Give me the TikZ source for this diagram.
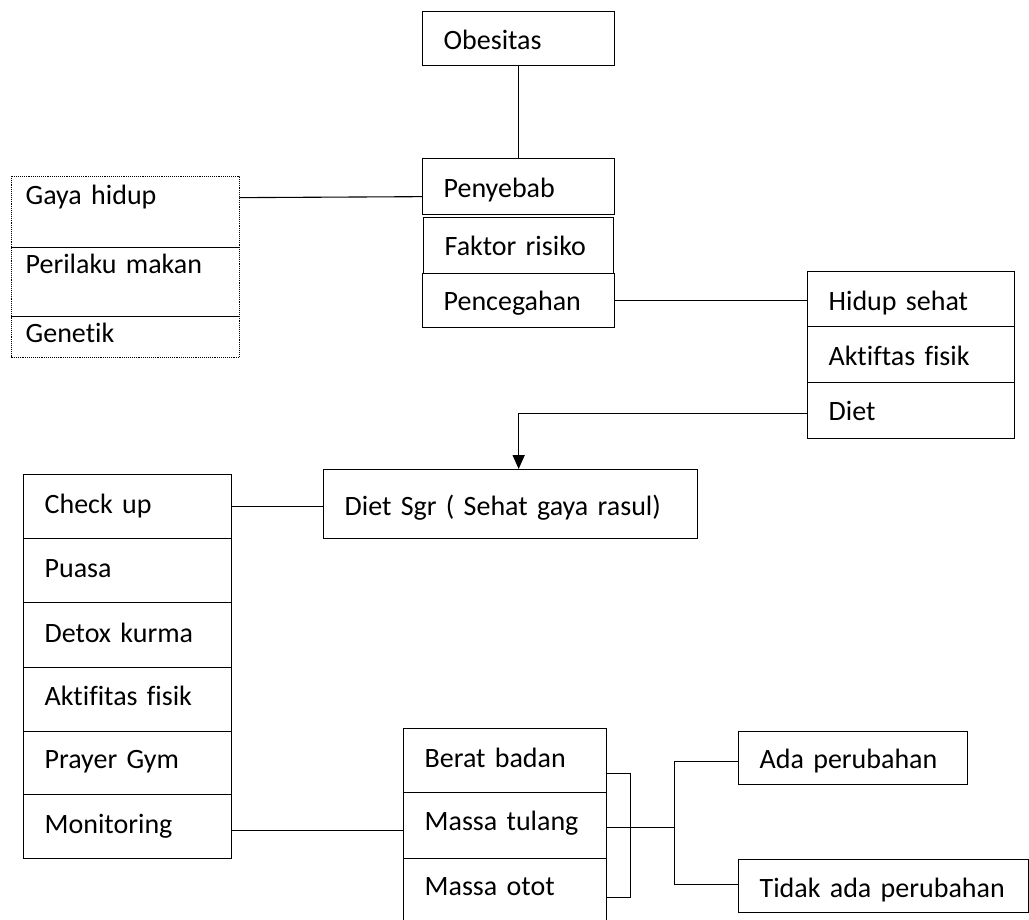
\documentclass[tikz,border=0pt]{standalone}
\usepackage{fontspec}
\setmainfont{Carlito}[Ligatures=NoCommon]
\usetikzlibrary{arrows.meta}
\begin{document}
\begin{tikzpicture}[x=1pt,y=-1pt,
  cell/.style n args={4}{draw, line width=1.3pt, anchor=north west, inner xsep=21pt, inner ysep=0pt,
    text width=#1, minimum height=#2, text height=#3, text depth=#4, align=left,
    font=\fontsize{28}{32}\selectfont},
  plaincell/.style n args={4}{cell={#1}{#2}{#3}{#4}, draw=none, inner xsep=14pt},
  conn/.style={line width=1.1pt},
  divider/.style={line width=1.3pt},
  dotbox/.style={line width=0.9pt, densely dotted},
  arrowconn/.style={line width=1.6pt, -{Triangle[length=14pt,width=12pt]}}
]
\clip (0,0) rectangle (1029,920);
% top column
\node[cell={150pt}{54pt}{22pt}{0pt}] (obes) at (422,11) {Obesitas};
\node[cell={150pt}{56pt}{22pt}{0pt}] (peny) at (422,158) {Penyebab};
\node[cell={148pt}{56pt}{20pt}{0pt}] (faktor) at (423,217) {Faktor risiko};
\node[cell={150pt}{54pt}{20pt}{0pt}] (penc) at (422,273) {Pencegahan};
% causes (dotted)
\node[plaincell={199pt}{70pt}{0pt}{14pt}] (gaya) at (11,176) {Gaya hidup};
\node[plaincell={199pt}{69pt}{0pt}{15pt}] (perilaku) at (11,246) {Perilaku makan};
\node[plaincell={199pt}{41pt}{13pt}{0pt}] (genetik) at (11,315) {Genetik};
\draw[dotbox] (gaya.north west) rectangle (genetik.south east);
\draw[divider] (gaya.south west) -- (gaya.south east);
\draw[divider] (perilaku.south west) -- (perilaku.south east);
% prevention
\node[cell={165pt}{55pt}{23pt}{0pt}] (hidup) at (807,271) {Hidup sehat};
\node[cell={165pt}{56pt}{22pt}{0pt}] (aktif) at (807,326) {Aktiftas fisik};
\node[cell={165pt}{56pt}{20pt}{0pt}] (diet) at (807,382) {Diet};
% diet sgr
\node[cell={332pt}{69pt}{23pt}{0pt}] (dsgr) at (323,469) {Diet Sgr ( Sehat gaya rasul)};
% left column
\node[cell={166pt}{64pt}{14pt}{0pt}] (checkup) at (23,474) {Check up};
\node[cell={166pt}{64pt}{14pt}{0pt}] (puasa) at (23,538) {Puasa};
\node[cell={166pt}{65pt}{15pt}{0pt}] (detox) at (23,602) {Detox kurma};
\node[cell={166pt}{64pt}{12pt}{0pt}] (aktif2) at (23,667) {Aktifitas fisik};
\node[cell={166pt}{63pt}{11pt}{0pt}] (prayer) at (23,731) {Prayer Gym};
\node[cell={166pt}{64pt}{14pt}{0pt}] (monitor) at (23,794) {Monitoring};
% measurements
\node[cell={161pt}{64pt}{14pt}{0pt}] (berat) at (403,728) {Berat badan};
\node[cell={161pt}{66pt}{10pt}{0pt}] (tulang) at (403,792) {Massa tulang};
\node[cell={161pt}{64pt}{10pt}{0pt}] (otot) at (403,858) {Massa otot};
% outcomes
\node[cell={187pt}{53pt}{21pt}{0pt}] (ada) at (738,731) {Ada perubahan};
\node[cell={248pt}{53pt}{23pt}{0pt}] (tidak) at (738,859) {Tidak ada perubahan};
% connectors
\draw[conn] (obes.south) -- (peny.north);
\draw[conn] ([yshift=14pt]gaya.east) -- ([yshift=-10pt]peny.west);
\draw[conn] (penc.east) -- (penc.east -| hidup.west);
\draw[arrowconn] ([yshift=-3pt]diet.west) -| ([xshift=8pt]dsgr.north);
\draw[conn] (checkup.east) -- (checkup.east -| dsgr.west);
\draw[conn] ([yshift=-4pt]monitor.east) -- ([yshift=-5pt]tulang.west);
\draw[conn] ([yshift=-13pt]berat.east) -- ++(23,0) |- ([yshift=-7pt]otot.east);
\draw[conn] ([yshift=-2pt]tulang.east) -- ++(67,0) coordinate (j);
\draw[conn] ([yshift=-3pt]ada.west) -| (j) |- ([yshift=2pt]tidak.west);
\end{tikzpicture}
\end{document}
